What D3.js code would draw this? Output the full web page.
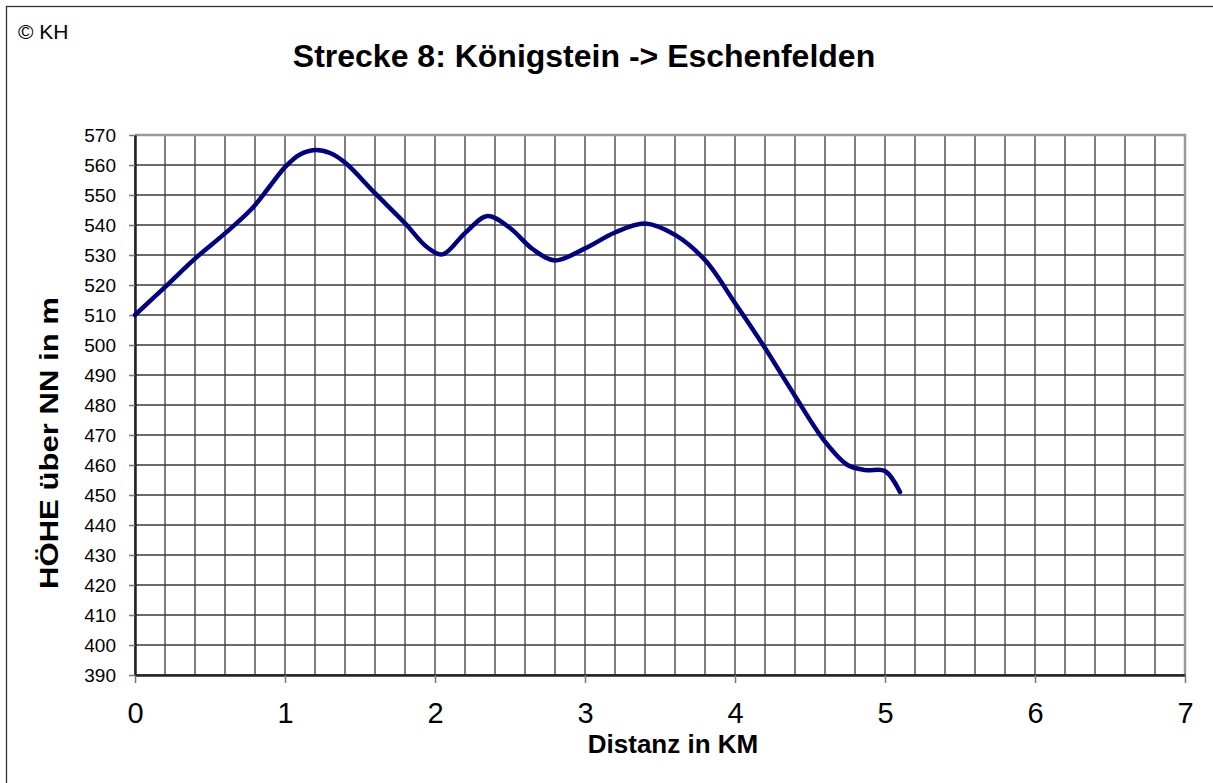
<!DOCTYPE html>
<html>
<head>
<meta charset="utf-8">
<script src="https://cdn.jsdelivr.net/npm/d3@7"></script>
<style>
  body { margin: 0; background: #fff; }
  text { font-family: "Liberation Sans", Arial, sans-serif; }
</style>
</head>
<body>
<div id="chart"></div>
<script>
// profile: distance in km, height in m
var dist   = [0, 0.2, 0.4, 0.6, 0.78, 0.9, 1.0, 1.1, 1.2, 1.3, 1.4, 1.6, 1.8, 1.95, 2.05, 2.2, 2.35, 2.5, 2.65, 2.8, 3.0, 3.2, 3.4, 3.6, 3.8, 4.0, 4.2, 4.4, 4.6, 4.75, 4.87, 5.0, 5.1];
var height = [510, 519.3, 528.8, 537.2, 545.5, 553, 559.3, 563.5, 565, 564, 560.8, 550.6, 540.6, 532.5, 530.2, 537.3, 543, 539, 532, 528.2, 532.2, 537.5, 540.5, 536.7, 528.3, 514, 499, 483, 467.8, 460, 458.3, 458, 451];

var xTicks = [0, 1, 2, 3, 4, 5, 6, 7];
var yTicks = d3.range(390, 571, 10);
var xGrid  = d3.range(0, 7.01, 0.2);

var title  = "Strecke 8: Königstein -> Eschenfelden";
var xTitle = "Distanz in KM";
var yTitle = "HÖHE über NN in m";

var svg_w = 1213, svg_h = 783;
var padLeft = 135, padTop = 135, graph_w = 1050, graph_h = 540;

var svg = d3.select("#chart")
      .append("svg")
      .attr("width", svg_w)
      .attr("height", svg_h);

// outer frame (right and bottom edges fall outside the picture)
svg.append("rect")
  .attr("x", 6.5).attr("y", 6.5)
  .attr("width", svg_w + 20).attr("height", svg_h + 20)
  .attr("fill", "none")
  .attr("stroke", "#333")
  .attr("stroke-width", 1.3);

svg.append("text")
  .attr("x", 18).attr("y", 39)
  .style("font-size", "21px")
  .text("© KH");

svg.append("text")
  .attr("x", 584).attr("y", 67)
  .attr("text-anchor", "middle")
  .style("font-size", "32px")
  .style("font-weight", "bold")
  .text(title);

var g = svg.append("g")
      .attr("transform", "translate(" + padLeft + "," + padTop + ")");

var xScale = d3.scaleLinear().domain([0, 7]).range([0, graph_w]);
var yScale = d3.scaleLinear().domain([390, 570]).range([graph_h, 0]);

// grid
g.selectAll(".vgrid")
  .data(xGrid)
  .enter()
  .append("line")
  .attr("class", "vgrid")
  .attr("x1", function(d) { return xScale(d); })
  .attr("x2", function(d) { return xScale(d); })
  .attr("y1", 0)
  .attr("y2", graph_h)
  .style("stroke", "#3a3a3a")
  .style("stroke-width", 1.3);

g.selectAll(".hgrid")
  .data(yTicks)
  .enter()
  .append("line")
  .attr("class", "hgrid")
  .attr("x1", 0)
  .attr("x2", graph_w)
  .attr("y1", function(d) { return yScale(d); })
  .attr("y2", function(d) { return yScale(d); })
  .style("stroke", "#3a3a3a")
  .style("stroke-width", 1.3);

// top and right frame in lighter gray
g.append("path")
  .attr("d", "M0,0H" + graph_w + "V" + graph_h)
  .attr("fill", "none")
  .style("stroke", "#999")
  .style("stroke-width", 2.5);

// axes
var xAxis = d3.axisBottom(xScale)
      .tickValues(xTicks)
      .tickFormat(d3.format("d"))
      .tickSize(8)
      .tickSizeOuter(0)
      .tickPadding(19);

var yAxis = d3.axisLeft(yScale)
      .tickValues(yTicks)
      .tickFormat(d3.format("d"))
      .tickSize(6)
      .tickSizeOuter(0)
      .tickPadding(13);

var gx = g.append("g")
  .attr("transform", "translate(0," + graph_h + ")")
  .call(xAxis);
gx.select(".domain").style("stroke", "#222").style("stroke-width", 2.5);
gx.selectAll(".tick line").style("stroke", "#777").style("stroke-width", 1.5);
gx.selectAll(".tick text")
  .style("font-size", "29px")
  .style("font-family", "'Liberation Sans', Arial, sans-serif")
  .attr("fill", "#000");

var gy = g.append("g").call(yAxis);
gy.select(".domain").style("stroke", "#222").style("stroke-width", 2.5);
gy.selectAll(".tick line").style("stroke", "#777").style("stroke-width", 1.5);
gy.selectAll(".tick text")
  .style("font-size", "19px")
  .style("font-family", "'Liberation Sans', Arial, sans-serif")
  .attr("fill", "#000");

// profile line
var points = dist.map(function(d, i) { return [d, height[i]]; });
var line = d3.line()
      .x(function(d) { return xScale(d[0]); })
      .y(function(d) { return yScale(d[1]); })
      .curve(d3.curveCatmullRom.alpha(0.5));

g.append("path")
  .datum(points)
  .attr("d", line)
  .attr("fill", "none")
  .style("stroke", "#000080")
  .style("stroke-width", 4.5)
  .style("stroke-linecap", "round")
  .style("stroke-linejoin", "round");

// axis titles
svg.append("text")
  .attr("x", 673).attr("y", 753)
  .attr("text-anchor", "middle")
  .style("font-size", "26px")
  .style("font-weight", "bold")
  .text(xTitle);

// the reference stretches this label along its baseline
svg.append("text")
  .attr("transform", "translate(58,443) rotate(-90)")
  .attr("text-anchor", "middle")
  .attr("textLength", 292)
  .attr("lengthAdjust", "spacingAndGlyphs")
  .style("font-size", "25px")
  .style("font-weight", "bold")
  .text(yTitle);
</script>
</body>
</html>
